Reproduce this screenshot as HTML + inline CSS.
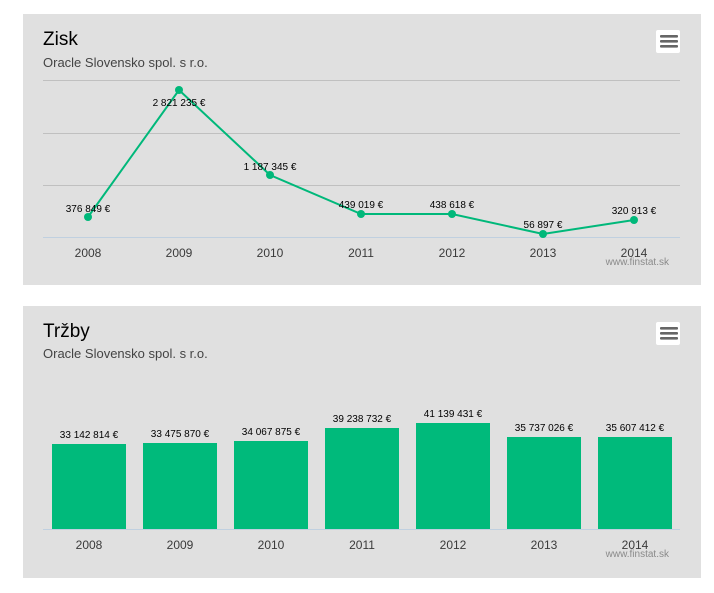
<!DOCTYPE html>
<html><head><meta charset="utf-8"><style>
html,body{margin:0;padding:0;background:#fff;}
body{width:714px;height:588px;overflow:hidden;font-family:"Liberation Sans",sans-serif;}
</style></head><body>
<svg width="714" height="588" viewBox="0 0 714 588" xmlns="http://www.w3.org/2000/svg" font-family="Liberation Sans, sans-serif">
<!-- Panel 1 -->
<rect x="23" y="14" width="678" height="271" fill="#e0e0e0"/>
<text x="43" y="45" font-size="19" fill="#000">Zisk</text>
<text x="43" y="67" font-size="13" fill="#444">Oracle Slovensko spol. s r.o.</text>
<rect x="656" y="30" width="24" height="23" rx="2" fill="#fff"/>
<rect x="660" y="35" width="18" height="2.6" rx="1" fill="#666"/>
<rect x="660" y="40" width="18" height="2.6" rx="1" fill="#666"/>
<rect x="660" y="45" width="18" height="2.6" rx="1" fill="#666"/>
<g stroke="#c0c0c0" stroke-width="1">
<line x1="43" y1="80.5" x2="680" y2="80.5"/>
<line x1="43" y1="133.5" x2="680" y2="133.5"/>
<line x1="43" y1="185.5" x2="680" y2="185.5"/>
</g>
<line x1="43" y1="237.5" x2="680" y2="237.5" stroke="#c0d0e0" stroke-width="1"/>
<polyline points="88,217 179,90 270,175 361,214 452,214 543,234 634,220" fill="none" stroke="#00b87a" stroke-width="2"/>
<g fill="#00b87a">
<circle cx="88" cy="217" r="4"/><circle cx="179" cy="90" r="4"/><circle cx="270" cy="175" r="4"/>
<circle cx="361" cy="214" r="4"/><circle cx="452" cy="214" r="4"/><circle cx="543" cy="234" r="4"/><circle cx="634" cy="220" r="4"/>
</g>
<g font-size="10" fill="#000" text-anchor="middle">
<text x="88" y="212">376 849 €</text>
<text x="179" y="106">2 821 235 €</text>
<text x="270" y="170">1 187 345 €</text>
<text x="361" y="208">439 019 €</text>
<text x="452" y="208">438 618 €</text>
<text x="543" y="228">56 897 €</text>
<text x="634" y="214">320 913 €</text>
</g>
<g font-size="12" fill="#3a3a3a" text-anchor="middle">
<text x="88" y="257">2008</text><text x="179" y="257">2009</text><text x="270" y="257">2010</text>
<text x="361" y="257">2011</text><text x="452" y="257">2012</text><text x="543" y="257">2013</text><text x="634" y="257">2014</text>
</g>
<text x="669" y="265" font-size="10" fill="#8a8a8a" text-anchor="end">www.finstat.sk</text>

<!-- Panel 2 -->
<rect x="23" y="306" width="678" height="272" fill="#e0e0e0"/>
<text x="43" y="337" font-size="19" fill="#000">Tržby</text>
<text x="43" y="358" font-size="13" fill="#444">Oracle Slovensko spol. s r.o.</text>
<rect x="656" y="322" width="24" height="23" rx="2" fill="#fff"/>
<rect x="660" y="327" width="18" height="2.6" rx="1" fill="#666"/>
<rect x="660" y="332" width="18" height="2.6" rx="1" fill="#666"/>
<rect x="660" y="337" width="18" height="2.6" rx="1" fill="#666"/>
<g fill="#00ba7b">
<rect x="52" y="444" width="74" height="85"/>
<rect x="143" y="443" width="74" height="86"/>
<rect x="234" y="441" width="74" height="88"/>
<rect x="325" y="428" width="74" height="101"/>
<rect x="416" y="423" width="74" height="106"/>
<rect x="507" y="437" width="74" height="92"/>
<rect x="598" y="437" width="74" height="92"/>
</g>
<line x1="43" y1="529.5" x2="680" y2="529.5" stroke="#c0d0e0" stroke-width="1"/>
<g font-size="10" fill="#000" text-anchor="middle">
<text x="89" y="438">33 142 814 €</text>
<text x="180" y="437">33 475 870 €</text>
<text x="271" y="435">34 067 875 €</text>
<text x="362" y="422">39 238 732 €</text>
<text x="453" y="417">41 139 431 €</text>
<text x="544" y="431">35 737 026 €</text>
<text x="635" y="431">35 607 412 €</text>
</g>
<g font-size="12" fill="#3a3a3a" text-anchor="middle">
<text x="89" y="549">2008</text><text x="180" y="549">2009</text><text x="271" y="549">2010</text>
<text x="362" y="549">2011</text><text x="453" y="549">2012</text><text x="544" y="549">2013</text><text x="635" y="549">2014</text>
</g>
<text x="669" y="557" font-size="10" fill="#8a8a8a" text-anchor="end">www.finstat.sk</text>
</svg>
</body></html>
